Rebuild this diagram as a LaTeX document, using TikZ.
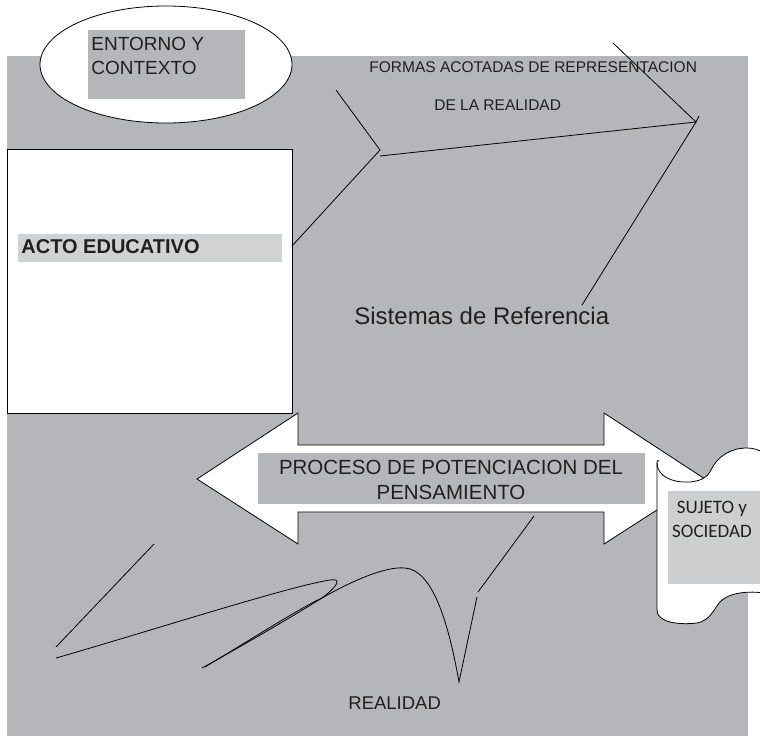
\documentclass[tikz,border=0pt]{standalone}
\usepackage{fontspec}
\setmainfont{Liberation Sans}
\newfontfamily\carl{Carlito}
\definecolor{bg}{HTML}{B5B6B9}
\definecolor{band}{HTML}{D1D2D4}
\definecolor{bandb}{HTML}{CDCED0}
\definecolor{txt}{HTML}{231F20}
\begin{document}
\begin{tikzpicture}[x=1pt,y=-1pt,line width=0.8pt,
  lbl/.style={inner sep=0pt,text=txt,anchor=base west},
  clbl/.style={inner sep=0pt,text=txt,anchor=base},
  shapeline/.style={draw=black,fill=white,line width=0.8pt},
  thin line/.style={draw=black,line width=0.8pt}]
\useasboundingbox (0,0) rectangle (760,736);
\clip (0,0) rectangle (760,736);
% background
\fill[bg] (7,56) rectangle (748,736);
% ellipse: entorno y contexto
\path[shapeline] (166,64.5) ellipse [x radius=126, y radius=58.5];
\fill[bg] (88,30) rectangle (245,99);
\node[lbl,font=\fontsize{19}{24}\selectfont] (entorno) at (91,50) {ENTORNO Y};
\node[lbl,font=\fontsize{19}{24}\selectfont] (contexto) at (91,74) {CONTEXTO};
% acto educativo
\path[shapeline] (7,149) rectangle (292,413);
\fill[band] (18,234) rectangle (282,262);
\node[lbl,font=\bfseries\fontsize{20}{24}\selectfont] (acto) at (21,253) {ACTO EDUCATIVO};
% texts in the upper part
\node[lbl,font=\fontsize{15.5}{18}\selectfont] (formas) at (369,72) {FORMAS ACOTADAS DE REPRESENTACION};
\node[lbl,font=\fontsize{15.5}{18}\selectfont] (delareal) at (434,110) {DE LA REALIDAD};
\node[lbl,font=\fontsize{24}{28}\selectfont] (sistemas) at (354,324) {Sistemas de Referencia};
% upper lines
\coordinate (a1) at (292,246);
\coordinate (v) at (380,150);
\coordinate (a0) at (336,90);
\coordinate (h0) at (380,156);
\coordinate (p) at (696,122);
\coordinate (t0) at (613,43);
\coordinate (s0) at (582,305);
\coordinate (tk) at (699,116);
\draw[thin line] (a1) -- (v) -- (a0);
\draw[thin line] (h0) -- (p);
\draw[thin line] (t0) -- (p) -- (s0);
\draw[thin line] (p) -- (tk);
% double arrow
\path[shapeline] (197,479) -- (298,413) -- (298,445) -- (604,445) -- (604,413) -- (705,479)
  -- (604,544) -- (604,512) -- (298,512) -- (298,544) -- cycle;
\fill[bg] (258,453) rectangle (645,504);
\node[clbl,font=\fontsize{20.5}{25}\selectfont] (proceso) at (451,474) {PROCESO DE POTENCIACION DEL};
\node[clbl,font=\fontsize{20.5}{25}\selectfont] (pensamiento) at (451,499) {PENSAMIENTO};
% scroll: sujeto y sociedad
\fill[white] (657,463) .. controls (657,476) and (672,483) .. (690,482)
  .. controls (700,481) and (707,478) .. (711,470)
  .. controls (717,457) and (730,448) .. (747,448)
  .. controls (754,448) and (759,450) .. (764,453)
  -- (764,593) .. controls (750,591) and (732,592) .. (722,600)
  .. controls (714,607) and (712,620) .. (697,623)
  .. controls (680,625) and (657,623) .. (657,610) -- cycle;
\draw[thin line] (764,453) .. controls (759,450) and (754,448) .. (747,448)
  .. controls (730,448) and (717,457) .. (711,470)
  .. controls (707,478) and (700,481) .. (690,482)
  .. controls (672,483) and (657,476) .. (657,463)
  .. controls (657,460) and (658,460) .. (659,461);
\draw[thin line] (657,463) -- (657,610)
  .. controls (657,623) and (680,625) .. (697,623)
  .. controls (712,620) and (714,607) .. (722,600)
  .. controls (732,592) and (750,591) .. (764,593);
\fill[bandb] (668,491) rectangle (764,584);
\node[clbl,font=\carl\fontsize{19}{24}\selectfont] (sujeto) at (712,513) {SUJETO y};
\node[clbl,font=\carl\fontsize{19}{24}\selectfont] (sociedad) at (712,537) {SOCIEDAD};
% lower strokes
\coordinate (l1a) at (154,544);
\coordinate (l1b) at (56,647);
\draw[thin line] (l1a) -- (l1b);
\draw[thin line] (56,658) .. controls (150,631) and (290,586) .. (330,580)
  .. controls (342,578) and (338,586) .. (322,598)
  .. controls (290,618) and (240,647) .. (202,668);
\draw[thin line] (205,667) .. controls (250,640) and (300,608) .. (322,598)
  .. controls (350,582) and (385,566) .. (405,568)
  .. controls (432,570) and (448,620) .. (459,682)
  -- (477,597);
\coordinate (r1a) at (534,516);
\coordinate (r1b) at (478,592);
\draw[thin line] (r1a) -- (r1b);
\node[lbl,font=\fontsize{18.5}{22}\selectfont] (realidad) at (348,709) {REALIDAD};
\end{tikzpicture}
\end{document}
